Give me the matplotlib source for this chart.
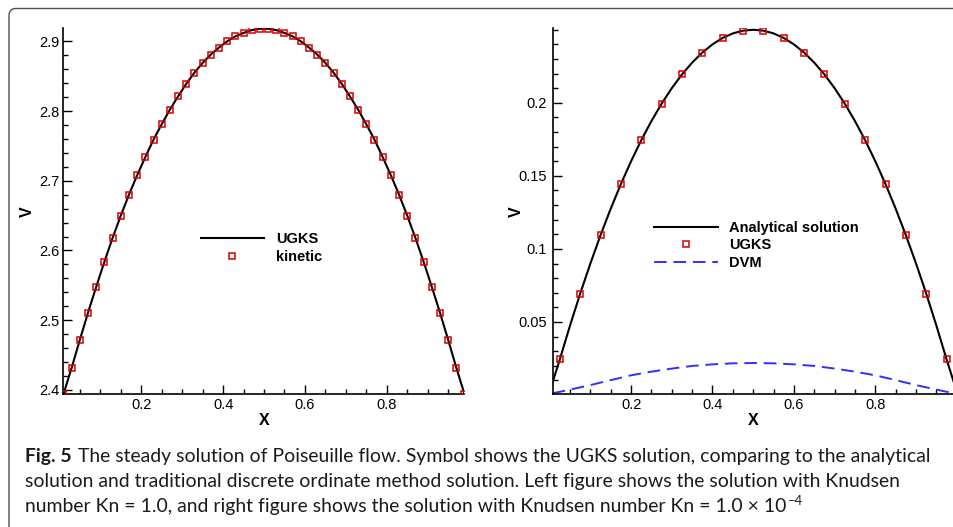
import numpy as np
import matplotlib
matplotlib.use("Agg")
import matplotlib.pyplot as plt
from matplotlib.patches import FancyBboxPatch
from matplotlib.transforms import IdentityTransform
from matplotlib.ticker import MultipleLocator, FixedLocator, FuncFormatter

# ---------------- data ----------------
# Left panel: Kn = 1.0
x_left = [0.01, 0.03, 0.05, 0.07, 0.09, 0.11, 0.13, 0.15, 0.17, 0.19,
          0.21, 0.23, 0.25, 0.27, 0.29, 0.31, 0.33, 0.35, 0.37, 0.39,
          0.41, 0.43, 0.45, 0.47, 0.49, 0.51, 0.53, 0.55, 0.57, 0.59,
          0.61, 0.63, 0.65, 0.67, 0.69, 0.71, 0.73, 0.75, 0.77, 0.79,
          0.81, 0.83, 0.85, 0.87, 0.89, 0.91, 0.93, 0.95, 0.97, 0.99]
ugks_left = [2.394, 2.432, 2.472, 2.511, 2.548, 2.584, 2.618, 2.650, 2.680, 2.708,
             2.734, 2.759, 2.781, 2.802, 2.821, 2.839, 2.855, 2.869, 2.881, 2.891,
             2.900, 2.907, 2.912, 2.916, 2.918, 2.918, 2.916, 2.912, 2.907, 2.900,
             2.891, 2.881, 2.869, 2.855, 2.839, 2.821, 2.802, 2.781, 2.759, 2.734,
             2.708, 2.680, 2.650, 2.618, 2.584, 2.548, 2.511, 2.472, 2.432, 2.394]
kinetic_left = [2.394, 2.432, 2.472, 2.511, 2.548, 2.584, 2.618, 2.650, 2.680, 2.708,
                2.734, 2.759, 2.781, 2.802, 2.821, 2.839, 2.855, 2.869, 2.881, 2.891,
                2.900, 2.907, 2.912, 2.916, 2.918, 2.918, 2.916, 2.912, 2.907, 2.900,
                2.891, 2.881, 2.869, 2.855, 2.839, 2.821, 2.802, 2.781, 2.759, 2.734,
                2.708, 2.680, 2.650, 2.618, 2.584, 2.548, 2.511, 2.472, 2.432, 2.394]

# Right panel: Kn = 1.0e-4
x_analytic = [0.0075, 0.025, 0.05, 0.075, 0.1, 0.125, 0.15, 0.175, 0.2, 0.225,
              0.25, 0.275, 0.3, 0.325, 0.35, 0.375, 0.4, 0.425, 0.45, 0.475,
              0.5, 0.525, 0.55, 0.575, 0.6, 0.625, 0.65, 0.675, 0.7, 0.725,
              0.75, 0.775, 0.8, 0.825, 0.85, 0.875, 0.9, 0.925, 0.95, 0.975, 0.9925]
v_analytic = [0.0090, 0.0244, 0.0475, 0.0694, 0.0900, 0.1094, 0.1275, 0.1444, 0.1600, 0.1744,
              0.1875, 0.1994, 0.2100, 0.2194, 0.2275, 0.2344, 0.2400, 0.2444, 0.2475, 0.2494,
              0.2500, 0.2494, 0.2475, 0.2444, 0.2400, 0.2344, 0.2275, 0.2194, 0.2100, 0.1994,
              0.1875, 0.1744, 0.1600, 0.1444, 0.1275, 0.1094, 0.0900, 0.0694, 0.0475, 0.0244, 0.0090]
x_ugks = [0.025, 0.075, 0.125, 0.175, 0.225, 0.275, 0.325, 0.375, 0.425, 0.475,
          0.525, 0.575, 0.625, 0.675, 0.725, 0.775, 0.825, 0.875, 0.925, 0.975]
v_ugks = [0.0244, 0.0694, 0.1094, 0.1444, 0.1744, 0.1994, 0.2194, 0.2344, 0.2444, 0.2494,
          0.2494, 0.2444, 0.2344, 0.2194, 0.1994, 0.1744, 0.1444, 0.1094, 0.0694, 0.0244]
x_dvm = [0.0075, 0.05, 0.1, 0.15, 0.2, 0.25, 0.3, 0.35, 0.4, 0.45, 0.5,
         0.55, 0.6, 0.65, 0.7, 0.75, 0.8, 0.85, 0.9, 0.95, 0.9925]
v_dvm = [0.0012, 0.0037, 0.0068, 0.0102, 0.0135, 0.0160, 0.0181, 0.0199, 0.0210, 0.0217, 0.0219,
         0.0217, 0.0210, 0.0199, 0.0181, 0.0160, 0.0135, 0.0102, 0.0068, 0.0037, 0.0012]

left_yticks = [2.4, 2.5, 2.6, 2.7, 2.8, 2.9]
right_yticks = [0.05, 0.1, 0.15, 0.2]
xticks = [0.2, 0.4, 0.6, 0.8]

# ---------------- style ----------------
W, H = 954, 527
RED = "#d60000"
BLUE = "#2f2fff"
TICKFONT = "Liberation Sans"
plt.rcParams["font.family"] = [TICKFONT, "DejaVu Sans"]

fig = plt.figure(figsize=(W / 100, H / 100), dpi=100)
fig.patch.set_facecolor("white")

def px_axes(x0, x1, ytop, ybot):
    return [x0 / W, 1 - ybot / H, (x1 - x0) / W, (ybot - ytop) / H]

axL = fig.add_axes(px_axes(63.5, 464.5, 28.3, 394.3))
axR = fig.add_axes(px_axes(552.7, 953.7, 28.3, 394.3))

fmt = FuncFormatter(lambda v, p: "%g" % v)

def style(ax, ypad):
    for s in ("top", "right"):
        ax.spines[s].set_visible(False)
    for s in ("left", "bottom"):
        ax.spines[s].set_linewidth(1.2)
        ax.spines[s].set_color("black")
    ax.tick_params(which="both", direction="in", width=1.0, color="black")
    ax.tick_params(which="major", length=6.7)
    ax.tick_params(which="minor", length=3.8)
    ax.tick_params(axis="y", which="major", pad=ypad, labelsize=10.5)
    ax.tick_params(axis="x", which="major", pad=3.0, labelsize=10.5)
    ax.xaxis.set_major_locator(FixedLocator(xticks))
    ax.xaxis.set_minor_locator(MultipleLocator(0.05))
    ax.xaxis.set_major_formatter(fmt)
    ax.yaxis.set_major_formatter(fmt)
    ax.set_xlabel("X", fontsize=11.5, fontweight="bold")
    ax.set_ylabel("V", fontsize=11.5, fontweight="bold")
    ax.xaxis.set_label_coords(0.5, -0.05)
    ax.yaxis.set_label_coords(-0.071, 0.5)
    ax.patch.set_alpha(0)

# Left panel
axL.plot(x_left, ugks_left, color="black", lw=1.5, label="UGKS", zorder=2)
axL.plot(x_left, kinetic_left, ls="none", marker="s", ms=4.3, mfc="none",
         mec=RED, mew=1.1, label="kinetic", zorder=3)
axL.set_xlim(0.01, 0.99)
axL.set_ylim(2.3938, 2.9186)
axL.yaxis.set_major_locator(FixedLocator(left_yticks))
axL.yaxis.set_minor_locator(MultipleLocator(0.02))
style(axL, 3.0)

# Right panel
axR.plot(x_analytic, v_analytic, color="black", lw=1.5, label="Analytical solution", zorder=2)
axR.plot(x_ugks, v_ugks, ls="none", marker="s", ms=4.3, mfc="none",
         mec=RED, mew=1.1, label="UGKS", zorder=3)
axR.plot(x_dvm, v_dvm, color=BLUE, lw=1.4, dashes=(6.5, 3.5), label="DVM", zorder=2)
axR.set_xlim(0.0075, 0.9925)
axR.set_ylim(0.0005, 0.251)
axR.yaxis.set_major_locator(FixedLocator(right_yticks))
axR.yaxis.set_minor_locator(MultipleLocator(0.01))
style(axR, 4.3)

legprop = dict(family=TICKFONT, weight="bold", size=10.5)
legL = axL.legend(loc="upper left", bbox_to_anchor=(201 / W, 1 - 231.9 / H),
                  bbox_transform=fig.transFigure, frameon=False, prop=legprop,
                  borderpad=0, borderaxespad=0, handlelength=4.3, handletextpad=0.82,
                  labelspacing=0.30)
legR = axR.legend(loc="upper left", bbox_to_anchor=(654 / W, 1 - 220.7 / H),
                  bbox_transform=fig.transFigure, frameon=False, prop=legprop,
                  borderpad=0, borderaxespad=0, handlelength=4.4, handletextpad=0.73,
                  labelspacing=0.26)

# Frame around the figure
frame = FancyBboxPatch((9, -60), 1100, H - 8.5 + 60,
                       boxstyle="round,pad=0,rounding_size=7",
                       transform=IdentityTransform(), fill=False,
                       ec="#4d4d4d", lw=1.0)
fig.add_artist(frame)

# ---------------- caption ----------------
CAPFONT = "Lato"
line1_rest = "The steady solution of Poiseuille flow. Symbol shows the UGKS solution, comparing to the analytical"
line2 = "solution and traditional discrete ordinate method solution. Left figure shows the solution with Knudsen"
line3 = "number Kn = 1.0, and right figure shows the solution with Knudsen number Kn = 1.0 \u00d7 10"
sup = "\u22124"

x0 = 25
base = [462.3, 487.3, 512.3]
target_right = 926.0

fig.canvas.draw()
r = fig.canvas.get_renderer()

def width_of(txt, size, weight="normal"):
    t = fig.text(0, 0, txt, fontsize=size, family=CAPFONT, fontweight=weight)
    w = t.get_window_extent(r).width
    t.remove()
    return w

s0 = 12.0
gap_px = 6.5
w_fig = width_of("Fig. 5", s0, "bold")
w_rest = width_of(line1_rest, s0)
scale = (target_right - x0 - gap_px) / (w_fig + w_rest)
size = s0 * scale

def fx(px):
    return px / W

def fy(py):
    return 1 - py / H

CAPCOL = "#1a1a1a"
tfig = fig.text(fx(x0), fy(base[0]), "Fig. 5", fontsize=size, family=CAPFONT,
                fontweight="bold", va="baseline", color=CAPCOL)
wf = tfig.get_window_extent(r).width
fig.text(fx(x0 + wf + gap_px), fy(base[0]), line1_rest, fontsize=size, family=CAPFONT,
         va="baseline", color=CAPCOL)
fig.text(fx(x0), fy(base[1]), line2, fontsize=size, family=CAPFONT,
         va="baseline", color=CAPCOL)
t3 = fig.text(fx(x0), fy(base[2]), line3, fontsize=size, family=CAPFONT,
              va="baseline", color=CAPCOL)
w3 = t3.get_window_extent(r).width
fig.text(fx(x0 + w3 + 0.5), fy(base[2] - 7.5), sup, fontsize=size * 0.68,
         family=[CAPFONT, "DejaVu Sans"], va="baseline", color=CAPCOL)

fig.savefig("out.png", dpi=100, facecolor="white")
